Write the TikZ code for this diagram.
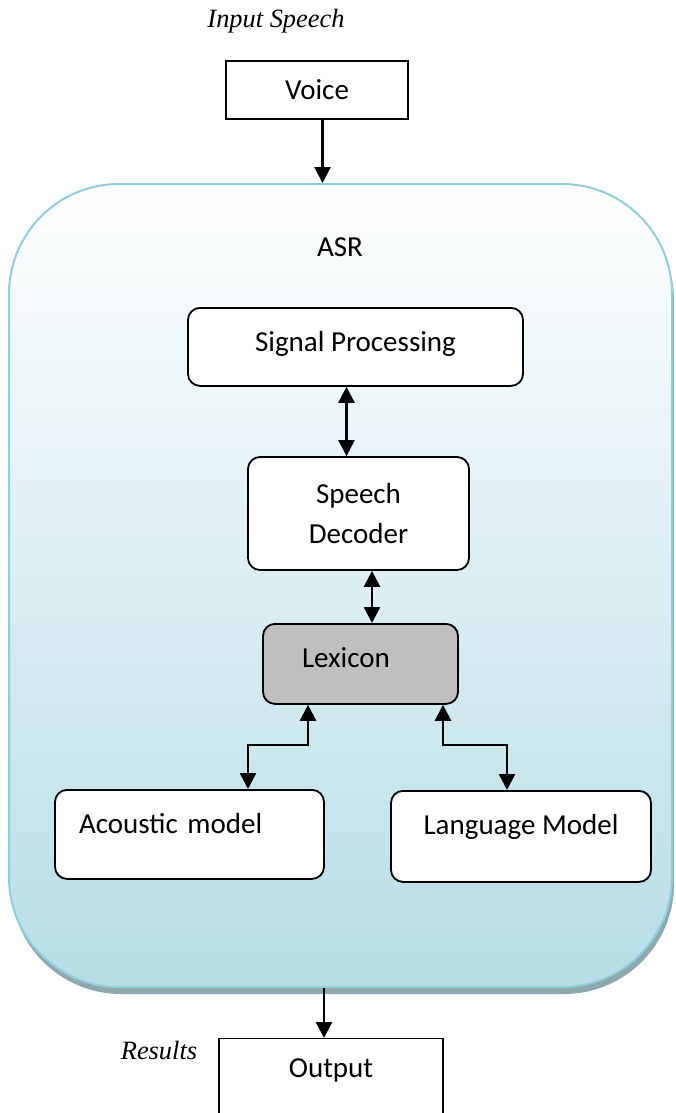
\documentclass[tikz,border=0pt]{standalone}
\usepackage{fontspec}
\setmainfont{Carlito}
\newfontfamily\capfont{Liberation Serif}
\usetikzlibrary{arrows.meta,shadows}
\definecolor{asrline}{RGB}{146,205,220}
\definecolor{asrfill}{RGB}{183,221,231}
\definecolor{asrshadow}{RGB}{141,168,175}
\definecolor{lexgray}{RGB}{191,191,191}

\begin{document}
\begin{tikzpicture}[x=0.5pt, y=-0.5pt, font=\fontsize{14.5}{20}\selectfont,
	box/.style={draw, line width=0.9pt, rounded corners=6pt, fill=white, inner xsep=0pt},
	topbox/.style={box, anchor=north, inner ysep=12.5pt, text height=9.5pt},
	plainbox/.style={draw, line width=0.6pt, inner sep=0pt},
	arr/.style={line width=1.2pt, -{Triangle[length=8pt,width=8pt]}},
	darr/.style={line width=1.2pt, {Triangle[length=8pt,width=8pt]}-{Triangle[length=8pt,width=8pt]}},
	caption/.style={font=\capfont\itshape\fontsize{13.2}{15}\selectfont}]
		\clip (0,0) rectangle (675,1113);
		
		\node[draw=asrline, line width=1pt, rounded corners=55pt, top color=white, bottom color=asrfill,
			minimum width=331.5pt, minimum height=401.5pt,
			drop shadow={shadow xshift=1pt, shadow yshift=-3.5pt, fill=asrshadow, opacity=1}] (asr) at (340.5,585.5) {};
		\node (asrtext) at (340,247) {ASR};
		
		\node[plainbox, minimum width=91pt, minimum height=29pt] (voice) at (317,90) {Voice};
		\node[topbox, minimum width=167.5pt, text depth=4.5pt] (sig) at (355.5,307) {Signal Processing};
		\node[box, minimum width=110.5pt, minimum height=56.5pt, align=center] (dec) at (358.5,513.5) {Speech\\Decoder};
		\node[topbox, fill=lexgray, text depth=5.5pt, text width=58.5pt, inner xsep=19.5pt, align=left] (lex) at (360.5,623) {Lexicon};
		\node[topbox, text depth=10pt, text width=110.5pt, inner xsep=12pt, align=left] (ac) at (189.5,789) {Acoustic model};
		\node[topbox, minimum width=130pt, text depth=11pt] (lm) at (521,790) {Language Model};
		\node[plainbox, anchor=north, minimum width=112pt, text height=9pt, text depth=40pt, inner ysep=10.5pt] (out) at (331,1038) {Output};
		
		\node[caption] (insp) at (276,21) {Input Speech};
		\node[caption] (res) at (159,1050) {Results};
		
		\draw[arr] ([xshift=2.75pt]voice.south) -- ([xshift=2.75pt]voice.south |- asr.north);
		\foreach \a/\b/\s in {sig/dec/-4.5pt, dec/lex/6.75pt}
		{
			\draw[darr] ([xshift=\s]\a.south) -- ([xshift=\s]\a.south |- \b.north);
		}
		\coordinate (lbend) at (248,745);
		\coordinate (rbend) at (507,745);
		\draw[darr] ([xshift=-26.25pt]lex.south) |- (lbend) -- (lbend |- ac.north);
		\draw[darr] ([xshift=41.25pt]lex.south) |- (rbend) -- (rbend |- lm.north);
		\draw[arr] ([xshift=-3.5pt]out.north |- asr.south) -- ([xshift=-3.5pt]out.north);
	\end{tikzpicture}
\end{document}
